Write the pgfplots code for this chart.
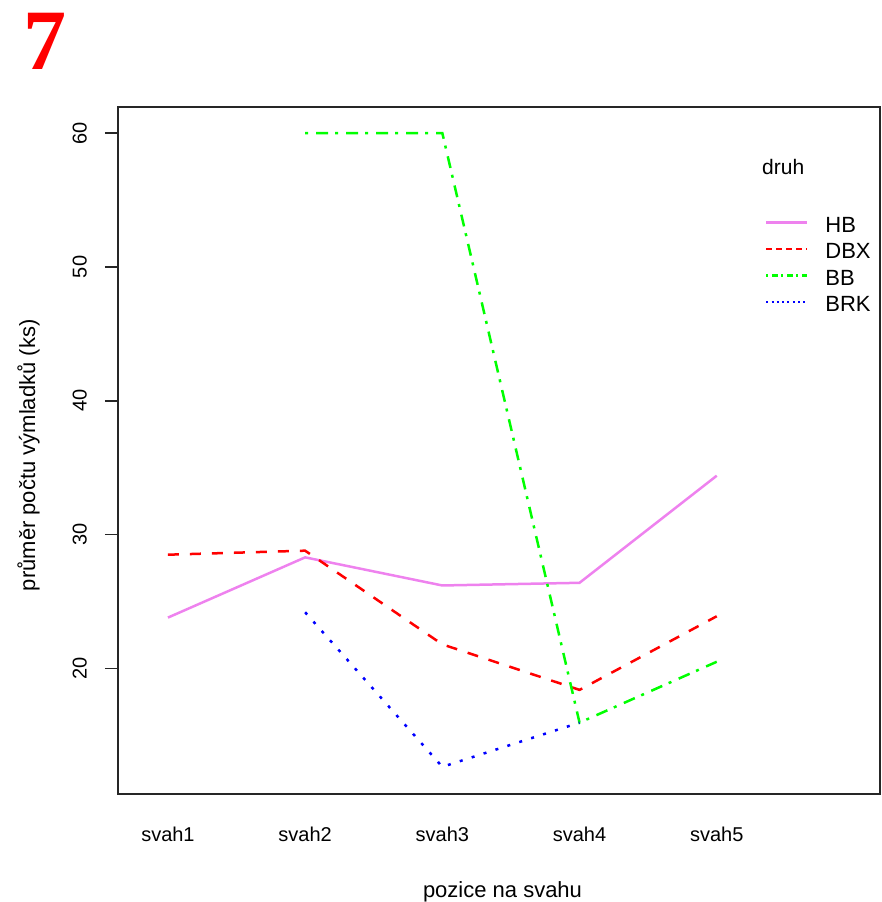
\documentclass[border=0pt]{standalone}
\usepackage{pgfplots}
\pgfplotsset{compat=1.18}
\usepackage{fontspec}
\setmainfont{Liberation Sans}
\newfontfamily\serifbold{Liberation Serif}
\definecolor{rviolet}{HTML}{EE82EE}
\definecolor{rgreen}{HTML}{00FF00}
\begin{document}
\begin{tikzpicture}
\useasboundingbox (-118pt,-108pt) rectangle (763pt,794pt);
\begin{axis}[
  at={(0pt,0pt)}, anchor=south west,
  scale only axis, width=762pt, height=687pt,
  xmin=0.636, xmax=6.19, ymin=10.62, ymax=61.95,
  axis line style={line width=1.4pt, black!85},
  /pgf/number format/assume math mode=true,
  xtick={1,2,3,4,5},
  xticklabels={svah1,svah2,svah3,svah4,svah5},
  ytick={20,30,40,50,60},
  tick pos=left,
  tick align=outside,
  major tick length=13pt,
  every tick/.append style={line width=1.6pt, black!85},
  every major tick/.append style={line width=1.6pt, black!85},
  ytick style={line width=1.6pt, black!85},
  xtick style={draw=none},
  xticklabel style={font=\fontsize{20}{24}\selectfont, anchor=north, inner sep=0pt},
  xticklabel shift=20pt,
  yticklabel style={font=\fontsize{20}{24}\selectfont, rotate=90, anchor=south, inner sep=0pt},
  yticklabel shift=18pt,
  xlabel={pozice na svahu},
  ylabel={průměr počtu výmladků (ks)},
  xlabel style={font=\fontsize{22}{26}\selectfont, at={(axis description cs:0.5046,-0.150)}, anchor=base, inner sep=0pt},
  ylabel style={font=\fontsize{22}{26}\selectfont, at={(axis description cs:-0.1024,0.493)}, anchor=south, rotate=0, inner sep=0pt},
  legend style={at={(axis description cs:0.849,0.8428)}, anchor=north west, draw=none, fill=none,
    inner sep=0pt, font=\fontsize{22}{26}\selectfont, column sep=17pt, row sep=0pt,
    nodes={inner sep=0pt, text height=17pt, text depth=9.5pt}},
  legend cell align=left,
  clip=false,
]
\addplot[color=rviolet, line width=2.5pt, forget plot] coordinates {(1,23.8) (2,28.3) (3,26.2) (4,26.4) (5,34.4)};
\addplot[color=red, line width=2.5pt, dash pattern=on 11pt off 11pt, forget plot] coordinates {(1,28.5) (2,28.8) (3,21.8) (4,18.4) (5,23.9)};
\addplot[color=rgreen, line width=2.5pt, dash pattern=on 3pt off 8pt on 12pt off 7pt, forget plot] coordinates {(2,60) (3,60) (4,15.95) (5,20.5)};
\addplot[color=blue, line width=2.5pt, dash pattern=on 3pt off 9.5pt, forget plot] coordinates {(2,24.2) (3,12.65) (4,15.95)};
\addlegendimage{legend image code/.code={\draw[color=rviolet, line width=2.3pt] (0pt,6pt) -- (41pt,6pt);}}
\addlegendentry{HB}
\addlegendimage{legend image code/.code={\draw[color=red, line width=2.3pt, dash pattern=on 5.5pt off 4.5pt] (0pt,6pt) -- (41pt,6pt);}}
\addlegendentry{DBX}
\addlegendimage{legend image code/.code={\draw[color=rgreen, line width=2.3pt, dash pattern=on 2pt off 3.5pt on 6pt off 3.5pt] (0pt,6pt) -- (41pt,6pt);}}
\addlegendentry{BB}
\addlegendimage{legend image code/.code={\draw[color=blue, line width=2.3pt, dash pattern=on 2pt off 3.3pt] (0pt,6pt) -- (41pt,6pt);}}
\addlegendentry{BRK}
\node[anchor=base west, inner sep=0pt, font=\fontsize{21}{25}\selectfont] at (axis description cs:0.8451,0.902) {druh};
\node[anchor=base west, inner sep=0pt, text=red, font=\serifbold\bfseries\fontsize{86}{90}\selectfont] at (axis description cs:-0.124,1.0539) {7};
\end{axis}
\end{tikzpicture}
\end{document}
